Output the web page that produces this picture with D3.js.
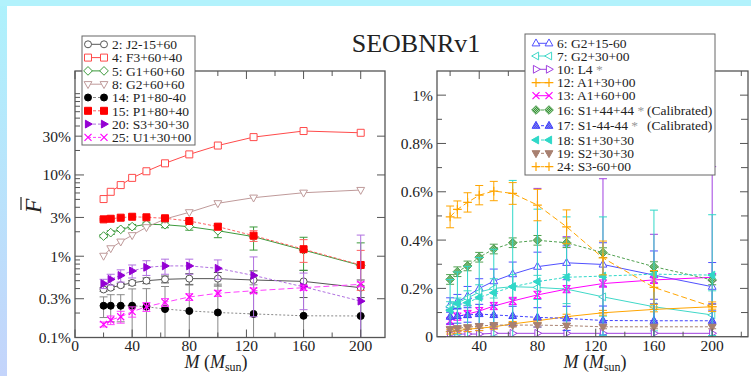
<!DOCTYPE html>
<html>
<head>
<meta charset="utf-8">
<script src="https://cdn.jsdelivr.net/npm/d3@7"></script>
<style>
  html, body { margin: 0; padding: 0; background: #fff; }
  svg { display: block; }
  text { font-family: "Liberation Serif", "Times New Roman", serif; fill: #222; }
</style>
</head>
<body>
<svg id="chart" width="751" height="376"></svg>
<script>
// masses of the injected binaries (M_sun)
const masses = [20, 25, 32, 40, 50, 63, 80, 100, 125, 160, 200];

// left panel (log scale, values in %)
const j2_15_60 = [0.39, 0.41, 0.44, 0.47, 0.50, 0.52, 0.53, 0.53, 0.51, 0.49, 0.41];
const j2_15_60Err = [0.02, 0.02, 0.02, 0.03, 0.04, 0.05, 0.08, 0.1, 0.15, 0.18, 0.1];
const f3_60_40 = [5.05, 6.2, 7.5, 9.2, 11.1, 13.9, 17.9, 23, 29.2, 34.7, 33];
const g1_60_60 = [1.77, 1.95, 2.14, 2.31, 2.47, 2.44, 2.31, 2.06, 1.74, 1.19, 0.77];
const g1_60_60Err = [0.08, 0.1, 0.1, 0.15, 0.15, 0.2, 0.22, 0.37, 0.55, 0.52, 0.69];
const g2_60_60 = [1.01, 1.25, 1.51, 1.81, 2.27, 2.87, 3.47, 4.48, 5.25, 6.04, 6.52];
const p1_80m40 = [0.246, 0.246, 0.246, 0.246, 0.239, 0.224, 0.212, 0.203, 0.195, 0.185, 0.184];
const p1_80m40Err = [0.07, 0.09, 0.09, 0.15, 0.16, 0.2, 0.23, 0.25, 0.25, 0.25, 0.25];
const p1_80_40 = [2.84, 2.89, 2.98, 3.06, 3.01, 2.93, 2.71, 2.31, 1.79, 1.22, 0.78];
const p1_80_40Err = [0.05, 0.05, 0.05, 0.05, 0.05, 0.08, 0.1, 0.2, 0.27, 0.38, 0.4];
const s3_30_30 = [0.46, 0.52, 0.58, 0.66, 0.73, 0.76, 0.76, 0.71, 0.58, 0.42, 0.28];
const s3_30_30Err = [0.06, 0.08, 0.1, 0.12, 0.15, 0.16, 0.16, 0.19, 0.4, 0.2, 1.54];
const u1_30_00 = [0.145, 0.164, 0.180, 0.208, 0.239, 0.271, 0.315, 0.350, 0.376, 0.410, 0.451];
const u1_30_00Err = [0.01, 0.02, 0.03, 0.03, 0.03, 0.03, 0.03, 0.03, 0.03, 0.03, 0.03];

// right panel (linear scale, values in %)
const g2_15m60 = [0.131, 0.145, 0.168, 0.200, 0.230, 0.259, 0.290, 0.306, 0.299, 0.255, 0.207];
const g2_15m60Err = [0.03, 0.03, 0.04, 0.04, 0.05, 0.05, 0.06, 0.07, 0.09, 0.1, 0.1];
const g2_30_00 = [0.125, 0.14, 0.16, 0.185, 0.2, 0.207, 0.204, 0.197, 0.165, 0.124, 0.09];
const g2_30_00Err = [0.02, 0.02, 0.03, 0.03, 0.04, 0.05, 0.05, 0.06, 0.08, 0.1, 0.1];
const l4 = [0.011, 0.011, 0.011, 0.011, 0.014, 0.014, 0.014, 0.014, 0.014, 0.014, 0.014];
const l4Err = [0.01, 0.01, 0.01, 0.015, 0.02, 0.03, 0.6, 0.4, 0.64, 0.41, 0.69];
const a1_30_00 = [0.021, 0.024, 0.031, 0.035, 0.041, 0.053, 0.066, 0.083, 0.099, 0.113, 0.124];
const a1_30_00Err = [0.01, 0.01, 0.01, 0.01, 0.01, 0.01, 0.01, 0.01, 0.01, 0.01, 0.01];
const a1_60_00 = [0.065, 0.083, 0.094, 0.106, 0.127, 0.148, 0.173, 0.197, 0.220, 0.235, 0.246];
const a1_60_00Err = [0.015, 0.015, 0.015, 0.015, 0.015, 0.015, 0.015, 0.015, 0.015, 0.015, 0.015];
const s1_44_44 = [0.237, 0.269, 0.293, 0.329, 0.363, 0.389, 0.399, 0.389, 0.348, 0.290, 0.235];
const s1_44_44Err = [0.02, 0.02, 0.02, 0.02, 0.02, 0.02, 0.02, 0.02, 0.02, 0.02, 0.02];
const s1m44m44 = [0.083, 0.086, 0.090, 0.094, 0.090, 0.086, 0.080, 0.076, 0.067, 0.066, 0.066];
const s1m44m44Err = [0.03, 0.03, 0.03, 0.04, 0.04, 0.04, 0.04, 0.05, 0.06, 0.07, 0.07];
const s1_30_30 = [0.110, 0.138, 0.141, 0.163, 0.182, 0.207, 0.228, 0.246, 0.251, 0.259, 0.255];
const s1_30_30Err = [0.127, 0.13, 0.15, 0.165, 0.18, 0.44, 0.3, 0.25, 0.245, 0.265, 0.25];
const s2_30_30 = [0.031, 0.035, 0.039, 0.044, 0.048, 0.048, 0.048, 0.046, 0.041, 0.041, 0.041];
const s2_30_30Err = [0.008, 0.008, 0.008, 0.008, 0.008, 0.008, 0.008, 0.008, 0.008, 0.008, 0.008];
const s3m60_00 = [0.496, 0.527, 0.556, 0.586, 0.603, 0.593, 0.545, 0.455, 0.326, 0.204, 0.124];
const s3m60_00Err = [0.045, 0.035, 0.04, 0.04, 0.04, 0.045, 0.065, 0.07, 0.07, 0.07, 0.02];

// tick labels
const massTicks = [0, 40, 80, 120, 160, 200];
const leftTicks = [0.1, 0.3, 1, 3, 10, 30];
const leftTickLabels = ["0.1%", "0.3%", "1%", "3%", "10%", "30%"];
const rightTicks = [0, 0.2, 0.4, 0.6, 0.8, 1];
const rightTickLabels = ["0", "0.2%", "0.4%", "0.6%", "0.8%", "1%"];

const leftSeries = [
  { label: "2: J2-15+60", values: j2_15_60, err: j2_15_60Err, color: "#555", marker: "circle", filled: false, dash: null },
  { label: "4: F3+60+40", values: f3_60_40, err: null, color: "#ff4a4a", marker: "square", filled: false, dash: null },
  { label: "5: G1+60+60", values: g1_60_60, err: g1_60_60Err, color: "#3c9a3c", marker: "diamond", filled: false, dash: null },
  { label: "8: G2+60+60", values: g2_60_60, err: null, color: "#bf9a9a", marker: "triDown", filled: false, dash: null },
  { label: "14: P1+80-40", values: p1_80m40, err: p1_80m40Err, color: "#000", line: "#888", marker: "circle", filled: true, dash: "2,2" },
  { label: "15: P1+80+40", values: p1_80_40, err: p1_80_40Err, color: "#ff0000", line: "#ff6060", marker: "square", filled: true, dash: "3,2" },
  { label: "20: S3+30+30", values: s3_30_30, err: s3_30_30Err, color: "#9400d3", line: "#b070e0", marker: "triRight", filled: true, dash: "3,2" },
  { label: "25: U1+30+00", values: u1_30_00, err: u1_30_00Err, color: "#ff00ff", line: "#ff40ff", marker: "cross", filled: false, dash: "6,3" }
];

const rightSeries = [
  { label: "6: G2+15-60", values: g2_15m60, err: g2_15m60Err, color: "#5050ff", marker: "triUp", filled: false, dash: null },
  { label: "7: G2+30+00", values: g2_30_00, err: g2_30_00Err, color: "#40d8c8", marker: "triLeft", filled: false, dash: null },
  { label: "10: L4", star: true, values: l4, err: l4Err, color: "#a040e0", marker: "triRight", filled: false, dash: null },
  { label: "12: A1+30+00", values: a1_30_00, err: a1_30_00Err, color: "#ffa500", marker: "plus", filled: false, dash: null },
  { label: "13: A1+60+00", values: a1_60_00, err: a1_60_00Err, color: "#ff00ff", marker: "cross", filled: false, dash: null },
  { label: "16: S1+44+44", star: true, note: "(Calibrated)", values: s1_44_44, err: s1_44_44Err, color: "#50a050", marker: "diamond", filled: "chkGreen", dash: "3,2" },
  { label: "17: S1-44-44", star: true, note: "(Calibrated)", values: s1m44m44, err: s1m44m44Err, color: "#4040ff", marker: "triUp", filled: "chkBlue", dash: "3,2" },
  { label: "18: S1+30+30", values: s1_30_30, err: s1_30_30Err, color: "#30d8c8", marker: "triLeft", filled: true, dash: "3,2" },
  { label: "19: S2+30+30", values: s2_30_30, err: s2_30_30Err, color: "#a88070", marker: "triDown", filled: true, dash: "3,2" },
  { label: "24: S3-60+00", values: s3m60_00, err: s3m60_00Err, color: "#ffa500", marker: "plus", filled: false, dash: "6,3" }
];

const svg = d3.select("#chart");

// light blue page border (left strip and top strip)
const defs = svg.append("defs");
const grad = defs.append("linearGradient").attr("id", "edge").attr("x1", 0).attr("x2", 0).attr("y1", 0).attr("y2", 1);
grad.append("stop").attr("offset", "0%").attr("stop-color", "#aef2fc");
grad.append("stop").attr("offset", "100%").attr("stop-color", "#c4d4fb");
svg.append("rect").attr("x", 0).attr("y", 0).attr("width", 7).attr("height", 376).attr("fill", "url(#edge)");
svg.append("rect").attr("x", 0).attr("y", 0).attr("width", 751).attr("height", 6).attr("fill", "#b2f2fc");

// checker patterns for calibrated sets
function checker(id, c1, c2) {
  const p = defs.append("pattern").attr("id", id).attr("patternUnits", "userSpaceOnUse").attr("width", 2).attr("height", 2);
  p.append("rect").attr("width", 2).attr("height", 2).attr("fill", c1);
  p.append("rect").attr("width", 1).attr("height", 1).attr("fill", c2);
  p.append("rect").attr("x", 1).attr("y", 1).attr("width", 1).attr("height", 1).attr("fill", c2);
}
checker("chkGreen", "#3c8c3c", "#9fd89f");
checker("chkBlue", "#3030e0", "#a0a0ff");

// marker shapes
function markerPath(type, s) {
  const r = s / 2;
  const t = s * 0.62;
  switch (type) {
    case "circle": return d3.symbol(d3.symbolCircle, Math.PI * r * r)();
    case "square": return `M${-r},${-r}h${s}v${s}h${-s}Z`;
    case "diamond": return `M0,${-t}L${t},0L0,${t}L${-t},0Z`;
    case "triUp": return `M0,${-t}L${t * 0.9},${t * 0.6}L${-t * 0.9},${t * 0.6}Z`;
    case "triDown": return `M0,${t}L${t * 0.9},${-t * 0.6}L${-t * 0.9},${-t * 0.6}Z`;
    case "triLeft": return `M${-t},0L${t * 0.6},${-t * 0.9}L${t * 0.6},${t * 0.9}Z`;
    case "triRight": return `M${t},0L${-t * 0.6},${-t * 0.9}L${-t * 0.6},${t * 0.9}Z`;
    case "cross": return `M${-r},${-r}L${r},${r}M${-r},${r}L${r},${-r}`;
    case "plus": return `M${-t},0H${t}M0,${-t}V${t}`;
  }
}

function drawMarker(g, s, x, y, size) {
  const p = g.append("path").attr("d", markerPath(s.marker, size))
    .attr("transform", `translate(${x},${y})`)
    .attr("stroke", s.color).attr("stroke-width", 1);
  if (s.marker === "cross" || s.marker === "plus") p.attr("fill", "none").attr("stroke-width", 1.2);
  else if (s.filled === true) p.attr("fill", s.color);
  else if (s.filled) p.attr("fill", `url(#${s.filled})`);
  else p.attr("fill", "#fff");
}

function drawPanel(opts) {
  const { x, y, series, id, log } = opts;
  const [x0, x1] = x.range();
  const [yb, yt] = y.range();

  defs.append("clipPath").attr("id", id).append("rect")
    .attr("x", x0).attr("y", yt).attr("width", x1 - x0).attr("height", yb - yt);

  const g = svg.append("g");
  const data = g.append("g").attr("clip-path", `url(#${id})`);
  const yMin = y.domain()[0];

  series.forEach(s => {
    const sg = data.append("g");
    const lineColor = s.line || s.color;
    // error bars
    if (s.err) {
      masses.forEach((m, i) => {
        const e = s.err[i];
        if (!e) return;
        const v = s.values[i];
        const px = x(m);
        const top = y(v + e);
        const lo = v - e;
        const bot = lo <= yMin ? yb + 2 : y(lo);
        sg.append("line").attr("x1", px).attr("x2", px).attr("y1", top).attr("y2", bot)
          .attr("stroke", lineColor).attr("stroke-width", 1);
        [top, bot].forEach(cy => {
          if (cy > yb) return;
          sg.append("line").attr("x1", px - 4).attr("x2", px + 4).attr("y1", cy).attr("y2", cy)
            .attr("stroke", lineColor).attr("stroke-width", 1);
        });
      });
    }
    const line = d3.line().x((d, i) => x(masses[i])).y(d => y(d));
    sg.append("path").attr("d", line(s.values)).attr("fill", "none")
      .attr("stroke", lineColor).attr("stroke-width", 1)
      .attr("stroke-dasharray", s.dash);
    s.values.forEach((v, i) => drawMarker(sg, s, x(masses[i]), y(v), 7));
  });

  // frame
  g.append("rect").attr("x", x0).attr("y", yt).attr("width", x1 - x0).attr("height", yb - yt)
    .attr("fill", "none").attr("stroke", "#555").attr("stroke-width", 1.3);

  const ax = g.append("g").attr("stroke", "#555").attr("stroke-width", 1);
  // x ticks, bottom and top, pointing inward
  d3.range(0, 240, 20).forEach(m => {
    if (m < x.domain()[0] || m > x.domain()[1]) return;
    const len = m % 40 === 0 ? 8 : 5;
    const px = x(m);
    ax.append("line").attr("x1", px).attr("x2", px).attr("y1", yb).attr("y2", yb - len);
    ax.append("line").attr("x1", px).attr("x2", px).attr("y1", yt).attr("y2", yt + len);
  });
  massTicks.forEach(m => {
    if (m < x.domain()[0]) return;
    g.append("text").attr("x", x(m)).attr("y", 351).attr("text-anchor", "middle")
      .attr("font-size", 15.5).text(m);
  });

  // y ticks
  opts.minor.forEach(v => {
    ax.append("line").attr("x1", x0).attr("x2", x0 + 5).attr("y1", y(v)).attr("y2", y(v));
    if (!log) ax.append("line").attr("x1", x1).attr("x2", x1 - 7).attr("y1", y(v)).attr("y2", y(v));
  });
  opts.major.forEach((v, i) => {
    ax.append("line").attr("x1", x0).attr("x2", x0 + 9).attr("y1", y(v)).attr("y2", y(v));
    ax.append("line").attr("x1", x1).attr("x2", x1 - 8).attr("y1", y(v)).attr("y2", y(v));
    g.append("text").attr("x", x0 - 4).attr("y", y(v)).attr("dy", "0.35em")
      .attr("text-anchor", "end").attr("font-size", 15.5).text(opts.labels[i]);
  });

  // axis title
  const t = g.append("text").attr("x", opts.titleX).attr("y", 368).attr("text-anchor", "middle").attr("font-size", 18);
  t.append("tspan").attr("font-style", "italic").text("M");
  t.append("tspan").text(" (");
  t.append("tspan").attr("font-style", "italic").text("M");
  t.append("tspan").attr("font-size", 12).attr("dy", 3).text("sun");
  t.append("tspan").attr("dy", -3).text(")");
}

function drawLegend(series, box) {
  const g = svg.append("g");
  g.append("rect").attr("x", box.x).attr("y", box.y).attr("width", box.w).attr("height", box.h)
    .attr("fill", "#fff").attr("stroke", "#666").attr("stroke-width", 1);
  series.forEach((s, i) => {
    const yy = box.y0 + box.pos[i];
    g.append("line").attr("x1", box.sx0).attr("x2", box.sx1).attr("y1", yy).attr("y2", yy)
      .attr("stroke", s.line || s.color).attr("stroke-width", 1).attr("stroke-dasharray", s.dash ? "3,2" : null);
    drawMarker(g, s, box.sx0, yy, 7);
    drawMarker(g, s, box.sx1, yy, 7);
    const t = g.append("text").attr("x", box.tx).attr("y", yy).attr("dy", "0.35em").attr("font-size", 13.5);
    t.append("tspan").text(s.label);
    if (s.star) t.append("tspan").attr("fill", "#999").text(" *");
    if (s.note) t.append("tspan").attr("x", box.noteX).text(s.note);
  });
}

const xLeft = d3.scaleLinear().domain([0, 217]).range([75, 385]);
const yLeft = d3.scaleLog().domain([0.1, 190]).range([337.5, 71]);
const xRight = d3.scaleLinear().domain([11, 224.6]).range([437, 748]);
const yRight = d3.scaleLinear().domain([0, 1.1]).range([336.7, 71]);

const logMinor = [];
[0.1, 1, 10, 100].forEach(d => d3.range(1, 10).forEach(k => {
  const v = +(k * d).toPrecision(3);
  if (v <= 190 && !leftTicks.includes(v)) logMinor.push(v);
}));

drawPanel({ x: xLeft, y: yLeft, series: leftSeries, id: "clipL", log: true, titleX: 216,
  major: leftTicks, labels: leftTickLabels, minor: logMinor });
drawPanel({ x: xRight, y: yRight, series: rightSeries, id: "clipR", log: false, titleX: 595,
  major: rightTicks, labels: rightTickLabels, minor: [0.1, 0.3, 0.5, 0.7, 0.9] });

drawLegend(leftSeries, { x: 82, y: 36, w: 113, h: 109, y0: 44.3, pos: d3.range(8).map(i => i * 13.3),
  sx0: 88, sx1: 104, tx: 112 });
drawLegend(rightSeries, { x: 525, y: 34, w: 190, h: 141, y0: 43.3,
  pos: [0, 12.7, 26, 39.4, 52.4, 66.7, 82.4, 96.7, 110, 123.4],
  sx0: 536, sx1: 549, tx: 557, noteX: 647 });

// title
svg.append("text").attr("x", 416).attr("y", 52).attr("text-anchor", "middle")
  .attr("font-size", 26).text("SEOBNRv1");

// y label: F-bar, rotated
const yl = svg.append("g").attr("transform", "translate(41,206) rotate(-90)");
yl.append("text").attr("x", 0).attr("y", 0).attr("text-anchor", "middle")
  .attr("font-size", 24).attr("font-style", "italic").text("F");
yl.append("line").attr("x1", -4).attr("x2", 9).attr("y1", -20).attr("y2", -20)
  .attr("stroke", "#222").attr("stroke-width", 1.2);
</script>
</body>
</html>
